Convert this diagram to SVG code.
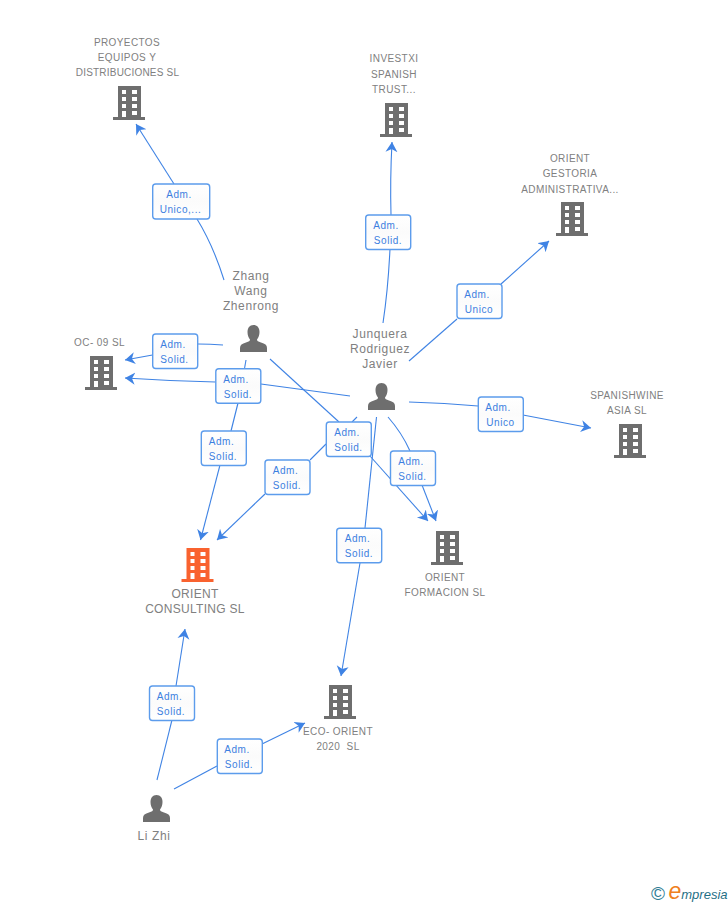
<svg xmlns="http://www.w3.org/2000/svg" width="728" height="905" viewBox="0 0 728 905">
<style>
text{font-family:"Liberation Sans",Arial,sans-serif;text-anchor:middle;white-space:pre}
.n{font-size:10px;letter-spacing:.4px;fill:#808080}
.p{font-size:12px;letter-spacing:.6px;fill:#808080}
.o{font-size:12px;letter-spacing:.3px;fill:#808080}
.l{font-size:10px;letter-spacing:.55px;fill:#3c7fe0}
.c{fill:none;stroke:#3f83e4;stroke-width:1.1}
.a{marker-end:url(#arr)}
.b{fill:url(#bx);stroke:#5c9cec;stroke-width:1.4}
</style>
<defs>
<linearGradient id="bx" x1="0" y1="0" x2="0" y2="1"><stop offset="0" stop-color="#fff"/><stop offset=".5" stop-color="#fbfbfb"/><stop offset="1" stop-color="#fff"/></linearGradient>
<marker id="arr" markerUnits="userSpaceOnUse" markerWidth="14" markerHeight="14" refX="10" refY="6.500" orient="auto"><path d="M10 6.500L0 .5L3 6.500L0 12.500Z" fill="#3f83e4"/></marker>
<path id="bw" fill-rule="evenodd" d="M5 0H28V31H32V34H0V31H5ZM9 4V8H13V4ZM19 4V8H24V4ZM9 11V15H13V11ZM19 11V15H24V11ZM9 18V22H13V18ZM19 18V22H24V18ZM9 25V31H13V25ZM19 25V29H24V25Z"/>
<path id="pr" d="M13.500 0C17.500 0 19.500 3 19.500 7C19.500 10 18.500 12.500 17 14.500C17 16 18 16.500 21 17.500C25 18.800 27 20 27 23V27H0V23C0 20 2 18.800 6 17.500C9 16.500 10 16 10 14.500C8.500 12.500 7.500 10 7.500 7C7.500 3 9.500 0 13.500 0Z"/>
</defs>
<g id="connectors">
<path class="c" d="M224 280Q213 245 197 219"/><path class="c a" d="M174 184L136 124"/>
<path class="c" d="M223 345Q210 344 198 344"/><path class="c a" d="M152.500 355L125 360"/>
<path class="c" d="M350 396L261 384"/><path class="c a" d="M215.500 382Q170 381 125 378"/>
<path class="c" d="M246 360L244.500 368.500"/><path class="c" d="M238 403L231 431"/><path class="c a" d="M220 465L200.500 540"/>
<path class="c" d="M270 359L339 422"/><path class="c a" d="M370 456L428 521"/>
<path class="c" d="M357 417L352 422"/><path class="c" d="M326 444L310 460"/><path class="c a" d="M265 494L217 540"/>
<path class="c" d="M388 417Q402 433 410 451"/><path class="c a" d="M422 485L436 521"/>
<path class="c" d="M376.500 417L365 528"/><path class="c a" d="M360 563L341 676"/>
<path class="c" d="M409 402Q445 403 478 406"/><path class="c a" d="M523 415L591 428"/>
<path class="c" d="M409 361L457 319"/><path class="c a" d="M501 284L549 241"/>
<path class="c" d="M383 323Q388 290 390 249"/><path class="c a" d="M391 215Q390 180 392 142"/>
<path class="c" d="M157 780L172 720"/><path class="c a" d="M176 686L185 629"/>
<path class="c" d="M174 789L217 766"/><path class="c a" d="M262 744L305 723"/>
</g>
<g id="edge-labels">
<g><rect class="b" x="152.700" y="184" width="57" height="35" rx="3"/><text class="l" x="179" y="197.500">Adm.</text><text class="l" x="180.500" y="212.500">Unico,...</text></g>
<g><rect class="b" x="152.700" y="334" width="45" height="34.500" rx="3"/><text class="l" x="173" y="347.500">Adm.</text><text class="l" x="174.500" y="362.500">Solid.</text></g>
<g><rect class="b" x="215.800" y="368.700" width="45" height="34.500" rx="3"/><text class="l" x="236" y="382.500">Adm.</text><text class="l" x="238" y="397.500">Solid.</text></g>
<g><rect class="b" x="201.300" y="431" width="45" height="34.500" rx="3"/><text class="l" x="221.500" y="444.500">Adm.</text><text class="l" x="223" y="459.500">Solid.</text></g>
<g><rect class="b" x="265" y="460" width="45" height="34.500" rx="3"/><text class="l" x="285.500" y="473.500">Adm.</text><text class="l" x="287" y="488.500">Solid.</text></g>
<g><rect class="b" x="326.300" y="422" width="45" height="34.500" rx="3"/><text class="l" x="347" y="435.500">Adm.</text><text class="l" x="348.500" y="450.500">Solid.</text></g>
<g><rect class="b" x="390.500" y="451" width="45" height="34.500" rx="3"/><text class="l" x="411" y="464.500">Adm.</text><text class="l" x="412.500" y="479.500">Solid.</text></g>
<g><rect class="b" x="336.700" y="528.300" width="45" height="34.500" rx="3"/><text class="l" x="357.500" y="541.500">Adm.</text><text class="l" x="359" y="556.500">Solid.</text></g>
<g><rect class="b" x="478.300" y="397" width="45" height="34.500" rx="3"/><text class="l" x="498" y="410.500">Adm.</text><text class="l" x="500.500" y="425.500">Unico</text></g>
<g><rect class="b" x="457" y="284" width="45" height="34.500" rx="3"/><text class="l" x="477" y="297.500">Adm.</text><text class="l" x="479" y="312.500">Unico</text></g>
<g><rect class="b" x="365.700" y="215" width="45" height="34.500" rx="3"/><text class="l" x="386" y="228.500">Adm.</text><text class="l" x="388" y="243.500">Solid.</text></g>
<g><rect class="b" x="149.500" y="686" width="45" height="34.500" rx="3"/><text class="l" x="169.500" y="699.500">Adm.</text><text class="l" x="171" y="714.500">Solid.</text></g>
<g><rect class="b" x="217.300" y="739" width="45" height="34.500" rx="3"/><text class="l" x="237" y="752.500">Adm.</text><text class="l" x="239" y="767.500">Solid.</text></g>
</g>
<g id="proyectos"><use href="#bw" x="113" y="86" fill="#6e6e6e"/><text class="n" x="127" y="46">PROYECTOS</text><text class="n" x="127" y="61">EQUIPOS Y</text><text class="n" x="127.500" y="76" style="letter-spacing:.2px">DISTRIBUCIONES SL</text></g>
<g id="investxi"><use href="#bw" x="380" y="103" fill="#6e6e6e"/><text class="n" x="394" y="62">INVESTXI</text><text class="n" x="394" y="78">SPANISH</text><text class="n" x="394" y="93">TRUST...</text></g>
<g id="gestoria"><use href="#bw" x="556" y="202" fill="#6e6e6e"/><text class="n" x="570" y="162">ORIENT</text><text class="n" x="570" y="177">GESTORIA</text><text class="n" x="570" y="193">ADMINISTRATIVA...</text></g>
<g id="spanishwine"><use href="#bw" x="614" y="424" fill="#6e6e6e"/><text class="n" x="627" y="399">SPANISHWINE</text><text class="n" x="627" y="414">ASIA SL</text></g>
<g id="oc09"><use href="#bw" x="85" y="356" fill="#6e6e6e"/><text class="n" x="99.500" y="346">OC- 09 SL</text></g>
<g id="consulting"><use href="#bw" x="181.500" y="548" fill="#f9622f"/><text class="o" x="195" y="598">ORIENT</text><text class="o" x="195" y="613">CONSULTING SL</text></g>
<g id="formacion"><use href="#bw" x="431" y="531" fill="#6e6e6e"/><text class="n" x="445" y="581">ORIENT</text><text class="n" x="445" y="596">FORMACION SL</text></g>
<g id="eco"><use href="#bw" x="324" y="685" fill="#6e6e6e"/><text class="n" x="338" y="735">ECO- ORIENT</text><text class="n" x="338" y="750">2020  SL</text></g>
<g id="zhang"><use href="#pr" x="240" y="325" fill="#6e6e6e"/><text class="p" x="251" y="280">Zhang</text><text class="p" x="251" y="295">Wang</text><text class="p" x="251" y="310">Zhenrong</text></g>
<g id="junquera"><use href="#pr" x="368" y="383" fill="#6e6e6e"/><text class="p" x="380" y="338">Junquera</text><text class="p" x="380" y="353">Rodriguez</text><text class="p" x="380" y="368">Javier</text></g>
<g id="lizhi"><use href="#pr" x="143" y="795" fill="#6e6e6e"/><text class="p" x="154" y="840">Li Zhi</text></g>
<g id="logo"><text x="658" y="900" style="font-size:19px;fill:#2e7d95">©</text><text x="698" y="899" style="font-style:italic;font-size:13px;fill:#1f6f86"><tspan style="font-size:23px;fill:#f08020">e</tspan>mpresia</text></g>
</svg>
